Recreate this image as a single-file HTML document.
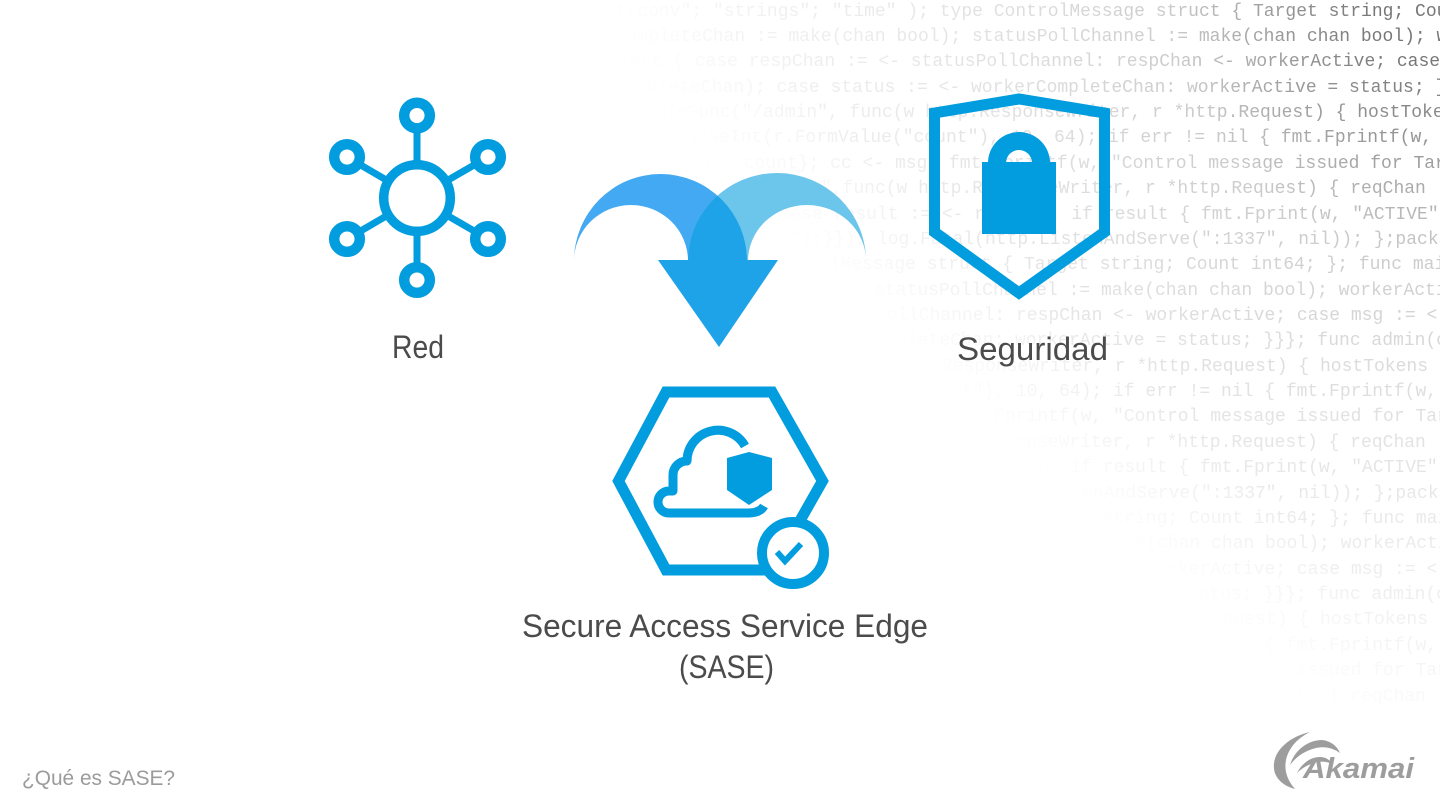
<!DOCTYPE html>
<html>
<head>
<meta charset="utf-8">
<style>
html,body{margin:0;padding:0;background:#fff;}
#wrap{position:relative;width:1440px;height:810px;overflow:hidden;background:#fff;}
#code{position:absolute;left:0;top:0;width:1440px;height:810px;overflow:hidden;
 -webkit-mask-image:linear-gradient(41.7deg,rgba(0,0,0,0) 60.5%,rgba(0,0,0,1) 69%);
 mask-image:linear-gradient(41.7deg,rgba(0,0,0,0) 60.5%,rgba(0,0,0,1) 69%);}
#code2{position:absolute;left:0;top:0;width:1440px;height:810px;overflow:hidden;
 font-family:"Liberation Mono",monospace;font-size:18px;color:#777;
 -webkit-mask-image:radial-gradient(900px 850px at 1440px 0px,rgba(0,0,0,1) 0%,rgba(0,0,0,1) 8%,rgba(0,0,0,.75) 18%,rgba(0,0,0,.38) 30%,rgba(0,0,0,.25) 45%,rgba(0,0,0,.16) 60%,rgba(0,0,0,.08) 80%,rgba(0,0,0,0) 95%);
 mask-image:radial-gradient(900px 850px at 1440px 0px,rgba(0,0,0,1) 0%,rgba(0,0,0,1) 8%,rgba(0,0,0,.75) 18%,rgba(0,0,0,.38) 30%,rgba(0,0,0,.25) 45%,rgba(0,0,0,.16) 60%,rgba(0,0,0,.08) 80%,rgba(0,0,0,0) 95%);}
.l{position:absolute;left:0;width:1440px;height:25px;line-height:25px;white-space:pre;}
.a,.b{position:absolute;top:0;white-space:pre;}
svg{position:absolute;left:0;top:0;}
</style>
</head>
<body>
<div id="wrap">
<div id="code"><div id="code2">
<div class="l" style="top:-0.5px"><span class="a" style="right:187px">import ( "fmt"; "html"; "log"; "net/http"; "strconv"; "strings"; "time" ); type ControlMessage struct { </span><span class="b" style="left:1253px">Target string; Count int64; };</span></div>
<div class="l" style="top:24.9px"><span class="a" style="right:468px">func main() { controlChannel := make(chan ControlMessage); workerCompleteChan := make(chan bool); </span><span class="b" style="left:972px">statusPollChannel := make(chan chan bool); workerActive := false;</span></div>
<div class="l" style="top:50.2px"><span class="a" style="right:324px">workerActive := false; go admin(controlChannel, statusPollChannel); for { select { case respChan := &lt;- statusPollChannel: </span><span class="b" style="left:1116px">respChan &lt;- workerActive; case msg := &lt;- controlChannel:</span></div>
<div class="l" style="top:75.6px"><span class="a" style="right:253px">case msg := &lt;- controlChannel: workerActive = true; go doStuff(msg, workerCompleteChan); case status := &lt;- workerCompleteChan: </span><span class="b" style="left:1187px">workerActive = status; }}}; func admin(</span></div>
<div class="l" style="top:101px"><span class="a" style="right:288px">statusPollChannel chan chan bool) {http.HandleFunc("/admin", func(w http.ResponseWriter, </span><span class="b" style="left:1152px">r *http.Request) { hostTokens := strings.Split(</span></div>
<div class="l" style="top:126.4px"><span class="a" style="right:332px">hostTokens := strings.Split(r.Host, ":"); r.ParseForm(); count, err := strconv.ParseInt(r.FormValue("count"), 10, 64); </span><span class="b" style="left:1108px">if err != nil { fmt.Fprintf(w, err.Error()); return; };</span></div>
<div class="l" style="top:151.7px"><span class="a" style="right:329px">msg := ControlMessage{Target: r.FormValue("target"), Count: count}; cc &lt;- msg; fmt.Fprintf(w, </span><span class="b" style="left:1111px">"Control message issued for Target %s, count %d", </span></div>
<div class="l" style="top:177.1px"><span class="a" style="right:295px">html.EscapeString(r.FormValue("target")), count); }); http.HandleFunc("/status",func(w http.ResponseWriter, </span><span class="b" style="left:1145px">r *http.Request) { reqChan := make(chan bool);</span></div>
<div class="l" style="top:202.5px"><span class="a" style="right:239px">statusPollChannel &lt;- reqChan;timeout := time.After(time.Second); select { case result := &lt;- reqChan: if result { </span><span class="b" style="left:1201px">fmt.Fprint(w, "ACTIVE"); } else {</span></div>
<div class="l" style="top:227.8px"><span class="a" style="right:239px">fmt.Fprint(w, "INACTIVE"); }; return; case &lt;- timeout: fmt.Fprint(w, "TIMEOUT");}}); log.Fatal(http.ListenAndServe(</span><span class="b" style="left:1201px">":1337", nil)); };package main;</span></div>
<div class="l" style="top:253.2px"><span class="a" style="right:254px">import ( "fmt"; "html"; "log"; "net/http"; "strconv"; "strings"; "time" ); type ControlMessage struct { Target string; </span><span class="b" style="left:1186px">Count int64; }; func main() {</span></div>
<div class="l" style="top:278.6px"><span class="a" style="right:339px">controlChannel := make(chan ControlMessage); workerCompleteChan := make(chan bool); statusPollChannel := </span><span class="b" style="left:1101px">make(chan chan bool); workerActive := false;</span></div>
<div class="l" style="top:303.9px"><span class="a" style="right:424px">workerActive := false; go admin(controlChannel, statusPollChannel); for { select { case respChan := &lt;- statusPollChannel: </span><span class="b" style="left:1016px">respChan &lt;- workerActive; case msg := &lt;- controlChannel:</span></div>
<div class="l" style="top:329.3px"><span class="a" style="right:263px">case msg := &lt;- controlChannel: workerActive = true; go doStuff(msg, workerCompleteChan); case status := &lt;- workerCompleteChan: workerActive = </span><span class="b" style="left:1177px">status; }}}; func admin(cc chan</span></div>
<div class="l" style="top:354.7px"><span class="a" style="right:120px">func admin(cc chan ControlMessage, statusPollChannel chan chan bool) {http.HandleFunc("/admin", func(w http.ResponseWriter, r *http.Request) { </span><span class="b" style="left:1320px">hostTokens := strings.Split(</span></div>
<div class="l" style="top:380.1px"><span class="a" style="right:327px">hostTokens := strings.Split(r.Host, ":"); r.ParseForm(); count, err := strconv.ParseInt(r.FormValue("count"), 10, 64); </span><span class="b" style="left:1113px">if err != nil { fmt.Fprintf(w, err.Error()); return; };</span></div>
<div class="l" style="top:405.4px"><span class="a" style="right:327px">msg := ControlMessage{Target: r.FormValue("target"), Count: count}; cc &lt;- msg; fmt.Fprintf(w, </span><span class="b" style="left:1113px">"Control message issued for Target %s, count %d", </span></div>
<div class="l" style="top:430.8px"><span class="a" style="right:295px">html.EscapeString(r.FormValue("target")), count); }); http.HandleFunc("/status",func(w http.ResponseWriter, </span><span class="b" style="left:1145px">r *http.Request) { reqChan := make(chan bool);</span></div>
<div class="l" style="top:456.2px"><span class="a" style="right:240px">statusPollChannel &lt;- reqChan;timeout := time.After(time.Second); select { case result := &lt;- reqChan: if result { </span><span class="b" style="left:1200px">fmt.Fprint(w, "ACTIVE"); } else {</span></div>
<div class="l" style="top:481.5px"><span class="a" style="right:239px">fmt.Fprint(w, "INACTIVE"); }; return; case &lt;- timeout: fmt.Fprint(w, "TIMEOUT");}}); log.Fatal(http.ListenAndServe(</span><span class="b" style="left:1201px">":1337", nil)); };package main;</span></div>
<div class="l" style="top:506.9px"><span class="a" style="right:251px">import ( "fmt"; "html"; "log"; "net/http"; "strconv"; "strings"; "time" ); type ControlMessage struct { Target string; </span><span class="b" style="left:1189px">Count int64; }; func main() {</span></div>
<div class="l" style="top:532.3px"><span class="a" style="right:337px">controlChannel := make(chan ControlMessage); workerCompleteChan := make(chan bool); statusPollChannel := </span><span class="b" style="left:1103px">make(chan chan bool); workerActive := false;</span></div>
<div class="l" style="top:557.6px"><span class="a" style="right:424px">workerActive := false; go admin(controlChannel, statusPollChannel); for { select { case respChan := &lt;- statusPollChannel: </span><span class="b" style="left:1016px">respChan &lt;- workerActive; case msg := &lt;- controlChannel:</span></div>
<div class="l" style="top:583px"><span class="a" style="right:263px">case msg := &lt;- controlChannel: workerActive = true; go doStuff(msg, workerCompleteChan); case status := &lt;- workerCompleteChan: workerActive = </span><span class="b" style="left:1177px">status; }}}; func admin(cc chan</span></div>
<div class="l" style="top:608.4px"><span class="a" style="right:120px">func admin(cc chan ControlMessage, statusPollChannel chan chan bool) {http.HandleFunc("/admin", func(w http.ResponseWriter, r *http.Request) { </span><span class="b" style="left:1320px">hostTokens := strings.Split(</span></div>
<div class="l" style="top:633.8px"><span class="a" style="right:327px">hostTokens := strings.Split(r.Host, ":"); r.ParseForm(); count, err := strconv.ParseInt(r.FormValue("count"), 10, 64); </span><span class="b" style="left:1113px">if err != nil { fmt.Fprintf(w, err.Error()); return; };</span></div>
<div class="l" style="top:659.1px"><span class="a" style="right:327px">msg := ControlMessage{Target: r.FormValue("target"), Count: count}; cc &lt;- msg; fmt.Fprintf(w, </span><span class="b" style="left:1113px">"Control message issued for Target %s, count %d", </span></div>
<div class="l" style="top:684.5px"><span class="a" style="right:295px">html.EscapeString(r.FormValue("target")), count); }); http.HandleFunc("/status",func(w http.ResponseWriter, </span><span class="b" style="left:1145px">r *http.Request) { reqChan := make(chan bool);</span></div>
</div></div>

<svg width="1440" height="810" viewBox="0 0 1440 810" xmlns="http://www.w3.org/2000/svg">
 <defs>
  <clipPath id="rc">
   <path d="M688,261 A89,88 0 0 1 866,261 A59,56 0 0 0 748,261 Z"/>
  </clipPath>
 </defs>

 <!-- Network icon -->
 <g stroke="#019dde" fill="none">
  <g stroke-width="7">
   <line x1="417" y1="198" x2="417" y2="115"/>
   <line x1="417" y1="198" x2="417" y2="280"/>
   <line x1="417" y1="198" x2="347" y2="157"/>
   <line x1="417" y1="198" x2="488" y2="157"/>
   <line x1="417" y1="198" x2="347" y2="239"/>
   <line x1="417" y1="198" x2="488" y2="239"/>
  </g>
  <circle cx="417" cy="198" r="33.3" stroke-width="9.5" fill="#fff"/>
  <g stroke-width="10.5" fill="#fff">
   <circle cx="417" cy="115.5" r="12.8"/>
   <circle cx="417" cy="280" r="12.8"/>
   <circle cx="347" cy="157" r="12.8"/>
   <circle cx="488" cy="157" r="12.8"/>
   <circle cx="347" cy="239" r="12.8"/>
   <circle cx="488" cy="239" r="12.8"/>
  </g>
 </g>

 <!-- Merge arrow -->
 <path d="M574,261 A86.5,87 0 0 1 747,261 L688,261 A57,56 0 0 0 574,261 Z" fill="#43a9f2"/>
 <path d="M688,261 A89,88 0 0 1 866,261 A59,56 0 0 0 748,261 Z" fill="#6cc5ea"/>
 <path d="M574,261 A86.5,87 0 0 1 747,261 L688,261 A57,56 0 0 0 574,261 Z" fill="#1fa3e8" clip-path="url(#rc)"/>
 <polygon points="658,260 778,260 719,347" fill="#1fa3e8"/>

 <!-- Security shield -->
 <polygon points="934.5,113 1019,99 1104.5,113 1104.5,232 1019,293 934.5,232" fill="none" stroke="#019dde" stroke-width="11" stroke-linejoin="miter"/>
 <path d="M988,163 A31,31 0 0 1 1050,163 L1032,163 A13,13 0 0 0 1006,163 Z" fill="#019dde"/>
 <rect x="982" y="162" width="74" height="72" fill="#019dde"/>

 <!-- SASE icon -->
 <polygon points="618.5,481 666,392 772,392 822.5,481 772,570 666,570" fill="none" stroke="#019dde" stroke-width="11" stroke-linejoin="miter"/>
 <path d="M750 513 L669 513 A11 11 0 0 1 669 491 L673 491 L673 475 A14 14 0 0 1 687 461 A31 31 0 0 1 745 446" fill="none" stroke="#019dde" stroke-width="9" stroke-linejoin="round"/>
 <path d="M748 513 Q760 513 764 506" fill="none" stroke="#019dde" stroke-width="9"/>
 <polygon points="727,458 749,452 772,458 772,490 749,505 727,490" fill="#019dde"/>
 <circle cx="793" cy="553" r="31" fill="#fff" stroke="#019dde" stroke-width="10"/>
 <polyline points="777,552 785,561 801,544" fill="none" stroke="#019dde" stroke-width="6"/>

 <!-- Labels -->
 <g font-family="Liberation Sans, sans-serif" font-size="32" fill="#4b4b4b">
  <text x="392" y="358" textLength="52" lengthAdjust="spacingAndGlyphs">Red</text>
  <text x="957" y="360" textLength="151" lengthAdjust="spacingAndGlyphs">Seguridad</text>
  <text x="522" y="637" textLength="406" lengthAdjust="spacingAndGlyphs">Secure Access Service Edge</text>
  <text x="679" y="678" textLength="95" lengthAdjust="spacingAndGlyphs">(SASE)</text>
 </g>

 <text x="22" y="785" font-family="Liberation Sans, sans-serif" font-size="21" fill="#9b9b9b" textLength="153" lengthAdjust="spacingAndGlyphs">¿Qué es SASE?</text>

 <!-- Akamai logo -->
 <g fill="#9d9d9d">
  <path d="M1310,732 C1288,737 1272,752 1274,769 C1275,778 1283,786 1295,789 C1287,780 1284,770 1286,760 C1289,747 1298,738 1310,732 Z"/>
  <path d="M1290,765 C1295,749 1309,740 1322,740 C1331,741 1337,746 1340,753 C1333,748 1325,746 1316,748 C1304,751 1296,757 1290,765 Z"/>
  <path d="M1297,773 C1302,763 1311,757 1320,757 C1326,757 1330,760 1332,764 C1326,761 1320,761 1314,763 C1307,765 1301,769 1297,773 Z"/>
  <text x="1303" y="778" font-family="Liberation Sans, sans-serif" font-weight="bold" font-style="italic" font-size="29" textLength="111" lengthAdjust="spacingAndGlyphs">Akamai</text>
 </g>
</svg>
</div>
</body>
</html>
